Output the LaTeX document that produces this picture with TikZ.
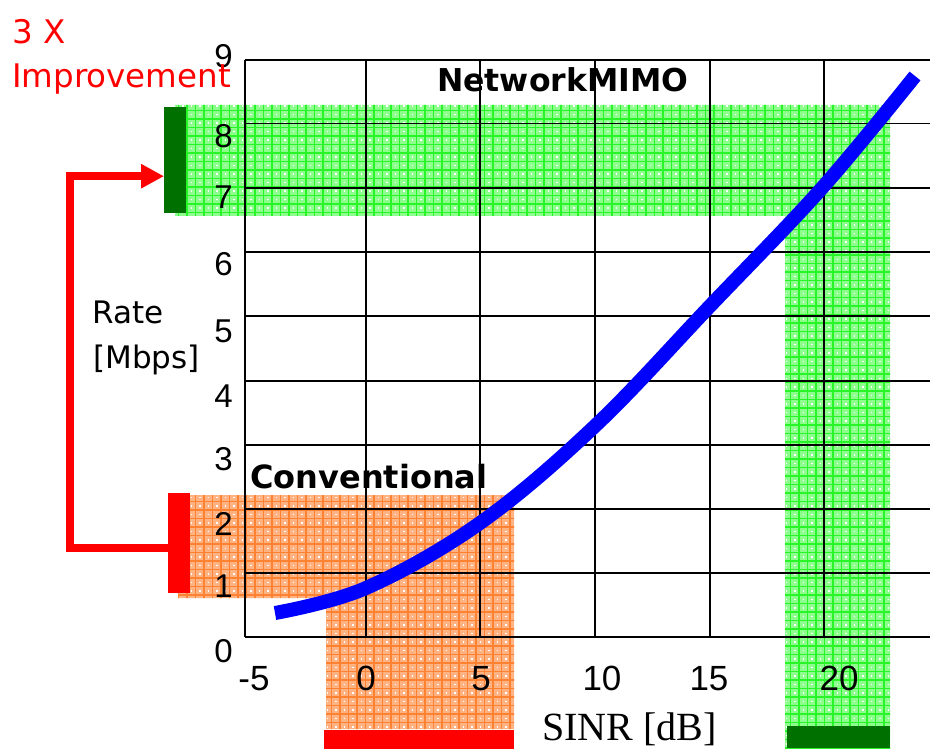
\documentclass[tikz,border=0pt]{standalone}
\usepackage{fontspec}
\setmainfont{Liberation Serif}
\newfontfamily\tahomalike{DejaVu Sans}
\newfontfamily\arialnum{Liberation Sans}
\usetikzlibrary{arrows.meta,calc}

\definecolor{mimobase}{RGB}{140,255,140}
\definecolor{mimoline}{RGB}{40,245,40}
\definecolor{mimodark}{RGB}{0,112,0}
\definecolor{convbase}{RGB}{255,178,130}
\definecolor{convline}{RGB}{255,130,50}
\definecolor{curveblue}{RGB}{0,0,255}

% fine dotted mesh used inside the highlighted bands (call inside a clipped scope)
\newcommand\dottedtexture[2]{%
  \fill[#1] (0,0) rectangle (930,749);
  \draw[#2, line width=1.3pt, step=8.5pt] (0,749) grid (930,0);
  \foreach \yy in {4.25,12.75,...,749}
    \draw[white, line width=1.5pt, dash pattern=on 1.5pt off 7pt] (3.5,\yy) -- (930,\yy);
}

\tikzset{
  gridline/.style={black, line width=1.8pt},
  bar/.style={draw=none, inner sep=0pt, anchor=north west},
  ynum/.style={font={\arialnum\fontsize{33pt}{36pt}\selectfont}, inner sep=0pt, anchor=base east},
  xnum/.style={font={\arialnum\fontsize{35pt}{38pt}\selectfont}, inner sep=0pt, anchor=base},
  boldlabel/.style={font={\tahomalike\bfseries\fontsize{31.5pt}{36pt}\selectfont}, inner sep=0pt, anchor=base west},
  plainlabel/.style={font={\tahomalike\fontsize{31pt}{36pt}\selectfont}, inner sep=0pt, anchor=base west},
  redlabel/.style={plainlabel, text=red, font={\tahomalike\fontsize{32.5pt}{36pt}\selectfont}},
  improvearrow/.style={red, line width=7.5pt, -{Triangle[length=23pt,width=23pt]}},
}

\begin{document}
\begin{tikzpicture}[x=1pt, y=-1pt]
\useasboundingbox (0,0) rectangle (930,749);
\fill[white] (0,0) rectangle (930,749);

% highlighted bands
\begin{scope}
  \clip (175,105) rectangle (890,216) (785,105) rectangle (890,749);
  \dottedtexture{mimobase}{mimoline}
\end{scope}
\begin{scope}
  \clip (178,495) rectangle (514,598) (326,495) rectangle (514,729);
  \dottedtexture{convbase}{convline}
\end{scope}

% chart grid
\foreach \gx in {245,366,480,595,710,824}
  \draw[gridline] (\gx,60) -- (\gx,637);
\foreach \gy in {60,123.5,188,252,316,381,445,509,573,637}
  \draw[gridline] (245,\gy) -- (931,\gy);

% marker bars
\node[bar, fill=mimodark, minimum width=22pt, minimum height=106pt] (mimoleft) at (164,107) {};
\node[bar, fill=mimodark, minimum width=103pt, minimum height=22pt] (mimobottom) at (787,726) {};
\node[bar, fill=red, minimum width=22pt, minimum height=100pt] (convleft) at (168,493) {};
\node[bar, fill=red, minimum width=190pt, minimum height=20pt] (convbottom) at (324,730) {};

% rate axis numbers
\node[ynum] (y9) at (233,68) {9};
\node[ynum] (y8) at (233,148) {8};
\node[ynum] (y7) at (233,208) {7};
\node[ynum] (y6) at (233,275) {6};
\node[ynum] (y5) at (233,342) {5};
\node[ynum] (y4) at (233,407) {4};
\node[ynum] (y3) at (233,470) {3};
\node[ynum] (y2) at (233,535) {2};
\node[ynum] (y1) at (233,597) {1};
\node[ynum] (y0) at (233,662) {0};

% SINR axis numbers
\node[xnum] (xm5) at (254,690) {-5};
\node[xnum] (x0) at (366,690) {0};
\node[xnum] (x5) at (481,690) {5};
\node[xnum] (x10) at (602,690) {10};
\node[xnum] (x15) at (709,690) {15};
\node[xnum] (x20) at (839,690) {20};

% labels
\node[inner sep=0pt, anchor=base west, font={\fontsize{40pt}{44pt}\selectfont}] (sinr) at (542,740) {SINR [dB]};
\node[plainlabel] (rate) at (92,323) {Rate};
\node[plainlabel] (mbps) at (93,368) {[Mbps]};
\node[boldlabel] (mimo) at (437,92) {NetworkMIMO};
\node[boldlabel, font={\tahomalike\bfseries\fontsize{32pt}{36pt}\selectfont}] (conv) at (250,488) {Conventional};
\node[redlabel] (gain) at (12,44) {3 X};
\node[redlabel] (improve) at (12,88) {Improvement};

% rate versus SINR
\draw[curveblue, line width=14pt] plot[smooth, tension=0.6] coordinates
  {(275,613) (366,588) (480,523) (595,426) (710,306) (822,188) (915,76)};

% improvement arrow
\coordinate (armtip) at ($(mimoleft.west)+(0,16)$);
\draw[improvearrow] ($(convleft.west)+(0,5)$) -- ++(-98,0) |- (armtip);
\end{tikzpicture}
\end{document}
